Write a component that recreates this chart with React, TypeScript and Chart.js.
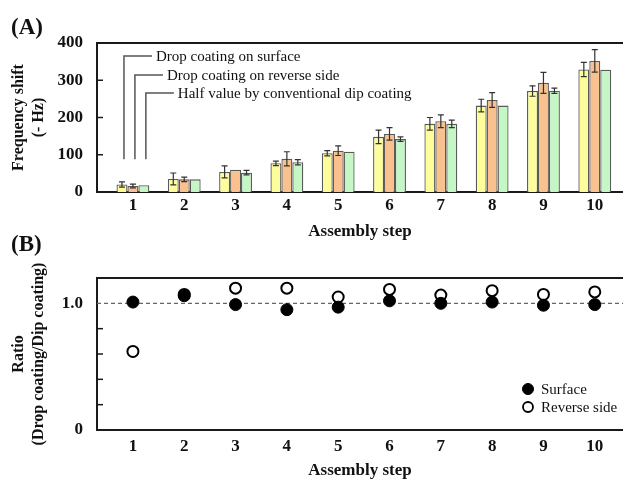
import React, { useEffect, useRef } from "react";
import { Chart, registerables } from "chart.js";

Chart.register(...registerables);

// ---------- data ----------
const steps = [1, 2, 3, 4, 5, 6, 7, 8, 9, 10];
const seriesLabels = [
  "Drop coating on surface",
  "Drop coating on reverse side",
  "Half value by conventional dip coating",
];
const surfaceShift = [20, 35, 54, 77, 104, 148, 183, 232, 271, 329];
const surfaceErr = [7, 16, 16, 6, 7, 18, 17, 17, 14, 19];
const reverseShift = [16, 34, 60, 89, 111, 156, 190, 247, 293, 352];
const reverseErr = [5, 6, 0, 19, 13, 17, 17, 20, 28, 30];
const dipHalfShift = [18, 34, 52, 80, 108, 142, 183, 232, 272, 328];
const dipHalfErr = [0, 0, 6, 7, 0, 6, 10, 0, 7, 0];

const ratioLabels = ["Surface", "Reverse side"];
const ratioSurface = [1.01, 1.06, 0.99, 0.95, 0.97, 1.02, 1.0, 1.01, 0.985, 0.99];
const ratioReverse = [0.62, 1.07, 1.12, 1.12, 1.05, 1.11, 1.065, 1.1, 1.07, 1.09];

const shiftTitle = ["Frequency shift", "(- Hz)"];
const ratioTitle = ["Ratio", "(Drop coating/Dip coating)"];
const xTitle = "Assembly step";

const FONT = "'Liberation Serif', 'Times New Roman', Times, serif";
const AXIS = "#1a1a1a";

function frameAndTicks(chart: any, tickValues: number[]) {
  const ctx = chart.ctx;
  const { left, right, top } = chart.chartArea;
  const y = chart.scales.y;
  ctx.save();
  ctx.strokeStyle = AXIS;
  ctx.lineWidth = 2;
  ctx.beginPath();
  ctx.moveTo(left - 1, top);
  ctx.lineTo(right, top);
  ctx.stroke();
  ctx.lineWidth = 1.5;
  tickValues.forEach((v) => {
    const py = y.getPixelForValue(v);
    ctx.beginPath();
    ctx.moveTo(left, py);
    ctx.lineTo(left + 6, py);
    ctx.stroke();
  });
  ctx.restore();
}

function makeX(height: number, tickPad: number, titlePad: number) {
  return {
    type: "linear",
    min: 0.3,
    max: 10.55,
    offset: false,
    grid: { display: false, offset: false },
    border: { display: true, color: AXIS, width: 2 },
    afterFit: (s: any) => {
      s.height = height;
    },
    afterBuildTicks: (s: any) => {
      s.ticks = steps.map((v) => ({ value: v }));
    },
    ticks: {
      color: "#111",
      font: { family: FONT, size: 17, weight: "bold" },
      padding: tickPad,
      maxRotation: 0,
      autoSkip: false,
      callback: (v: any) => String(v),
    },
    title: {
      display: true,
      text: xTitle,
      color: "#111",
      font: { family: FONT, size: 17, weight: "bold" },
      padding: { top: 0, bottom: titlePad },
    },
  };
}

function yTitle(text: string[]) {
  return {
    display: true,
    text,
    color: "#111",
    font: { family: FONT, size: 16, weight: "bold", lineHeight: 1.25 },
    padding: { top: 9, bottom: 0 },
  };
}

const panelAPlugin = {
  id: "panelA",
  afterDraw(chart: any) {
    const ctx = chart.ctx;
    const y = chart.scales.y;
    frameAndTicks(chart, [100, 200, 300]);

    // error bars
    const errs = [surfaceErr, reverseErr, dipHalfErr];
    const vals = [surfaceShift, reverseShift, dipHalfShift];
    ctx.save();
    ctx.strokeStyle = "#333";
    ctx.lineWidth = 1.2;
    for (let d = 0; d < 3; d++) {
      const meta = chart.getDatasetMeta(d);
      meta.data.forEach((bar: any, j: number) => {
        const e = errs[d][j];
        if (!e) return;
        const yt = y.getPixelForValue(vals[d][j] + e);
        const yb = y.getPixelForValue(vals[d][j] - e);
        ctx.beginPath();
        ctx.moveTo(bar.x, yt);
        ctx.lineTo(bar.x, yb);
        ctx.moveTo(bar.x - 3, yt);
        ctx.lineTo(bar.x + 3, yt);
        ctx.moveTo(bar.x - 3, yb);
        ctx.lineTo(bar.x + 3, yb);
        ctx.stroke();
      });
    }
    ctx.restore();

    // series annotations
    const levels = [365, 314, 266];
    ctx.save();
    ctx.strokeStyle = "#555";
    ctx.lineWidth = 1.5;
    ctx.fillStyle = "#111";
    ctx.font = `15px ${FONT}`;
    ctx.textBaseline = "middle";
    ctx.textAlign = "left";
    for (let k = 0; k < 3; k++) {
      const bar = chart.getDatasetMeta(k).data[0];
      const x = bar.x + 2;
      const yb = y.getPixelForValue(88);
      const yl = y.getPixelForValue(levels[k]);
      ctx.beginPath();
      ctx.moveTo(x, yb);
      ctx.lineTo(x, yl);
      ctx.lineTo(x + 28, yl);
      ctx.stroke();
      ctx.fillText(chart.data.datasets[k].label, x + 32, yl + 1);
    }
    ctx.restore();

    ctx.save();
    ctx.fillStyle = "#111";
    ctx.font = `bold 23px ${FONT}`;
    ctx.textBaseline = "alphabetic";
    ctx.fillText("(A)", 11, 34);
    ctx.restore();
  },
};

const panelBPlugin = {
  id: "panelB",
  beforeDatasetsDraw(chart: any) {
    const ctx = chart.ctx;
    const { left, right } = chart.chartArea;
    const py = chart.scales.y.getPixelForValue(1);
    ctx.save();
    ctx.strokeStyle = "#666";
    ctx.lineWidth = 1.3;
    ctx.setLineDash([4, 3]);
    ctx.beginPath();
    ctx.moveTo(left, py);
    ctx.lineTo(right, py);
    ctx.stroke();
    ctx.restore();
  },
  afterDraw(chart: any) {
    const ctx = chart.ctx;
    frameAndTicks(chart, [0.2, 0.4, 0.6, 0.8]);
    // legend
    ctx.save();
    ctx.font = `15px ${FONT}`;
    ctx.textBaseline = "middle";
    ctx.textAlign = "left";
    const items = chart.data.datasets;
    const lx = 528;
    const ly = [164, 182];
    items.forEach((ds: any, i: number) => {
      ctx.beginPath();
      ctx.arc(lx, ly[i], i === 0 ? 5.5 : 5, 0, Math.PI * 2);
      ctx.fillStyle = ds.pointBackgroundColor;
      ctx.fill();
      ctx.lineWidth = i === 0 ? 1 : 1.8;
      ctx.strokeStyle = "#000";
      ctx.stroke();
      ctx.fillStyle = "#111";
      ctx.fillText(ds.label, 541, ly[i] + 1);
    });
    ctx.restore();

    ctx.save();
    ctx.fillStyle = "#111";
    ctx.font = `bold 23px ${FONT}`;
    ctx.fillText("(B)", 11, 26);
    ctx.restore();
  },
};

export default function App() {
  const refA = useRef<HTMLCanvasElement | null>(null);
  const refB = useRef<HTMLCanvasElement | null>(null);

  useEffect(() => {
    const border = "#5a5a5a";
    const mk = (vals: number[]) => steps.map((x, i) => ({ x, y: vals[i] }));
    const chartA = new Chart(refA.current as HTMLCanvasElement, {
      type: "bar",
      data: {
        datasets: [
          { label: seriesLabels[0], data: mk(surfaceShift), backgroundColor: "#fdfd9c", borderColor: border, borderWidth: 1.3 },
          { label: seriesLabels[1], data: mk(reverseShift), backgroundColor: "#f9c18e", borderColor: border, borderWidth: 1.3 },
          { label: seriesLabels[2], data: mk(dipHalfShift), backgroundColor: "#c5f6c5", borderColor: border, borderWidth: 1.3 },
        ],
      } as any,
      options: {
        animation: false,
        responsive: false,
        devicePixelRatio: 1,
        layout: { autoPadding: false, padding: { top: 43, left: 0, right: 0, bottom: 0 } },
        datasets: { bar: { categoryPercentage: 0.64, barPercentage: 1.0 } },
        plugins: { legend: { display: false }, tooltip: { enabled: false } },
        scales: {
          x: makeX(53, -5, 3),
          y: {
            min: 0,
            max: 400,
            grid: { display: false },
            border: { display: true, color: AXIS, width: 2 },
            afterFit: (s: any) => { s.width = 97; },
            ticks: {
              stepSize: 100,
              color: "#111",
              padding: 6,
              font: { family: FONT, size: 17, weight: "bold" },
            },
            title: yTitle(shiftTitle),
          },
        },
      } as any,
      plugins: [panelAPlugin],
    });

    const chartB = new Chart(refB.current as HTMLCanvasElement, {
      type: "scatter",
      data: {
        datasets: [
          {
            label: ratioLabels[0],
            data: mk(ratioSurface),
            pointBackgroundColor: "#000",
            pointBorderColor: "#000",
            pointBorderWidth: 1,
            pointRadius: 6,
            showLine: false,
          },
          {
            label: ratioLabels[1],
            data: mk(ratioReverse),
            pointBackgroundColor: "#fff",
            pointBorderColor: "#000",
            pointBorderWidth: 2,
            pointRadius: 5.5,
            showLine: false,
          },
        ],
      } as any,
      options: {
        animation: false,
        responsive: false,
        devicePixelRatio: 1,
        layout: { autoPadding: false, padding: { top: 53, left: 0, right: 0, bottom: 0 } },
        plugins: { legend: { display: false }, tooltip: { enabled: false } },
        scales: {
          x: makeX(50, -2, -1),
          y: {
            min: 0,
            max: 1.2,
            grid: { display: false },
            border: { display: true, color: AXIS, width: 2 },
            afterFit: (s: any) => { s.width = 97; },
            ticks: {
              stepSize: 0.2,
              color: "#111",
              padding: 6,
              font: { family: FONT, size: 17, weight: "bold" },
              callback: (v: any) => (Math.abs(v - 1) < 1e-6 ? "1.0" : Math.abs(v) < 1e-6 ? "0" : ""),
            },
            title: yTitle(ratioTitle),
          },
        },
      } as any,
      plugins: [panelBPlugin],
    });

    return () => {
      chartA.destroy();
      chartB.destroy();
    };
  }, []);

  return (
    <div style={{ position: "absolute", left: 0, top: 0, width: 623, height: 480, background: "#fff" }}>
      <canvas ref={refA} width={623} height={245} style={{ position: "absolute", left: 0, top: 0, width: 623, height: 245 }} />
      <canvas ref={refB} width={623} height={255} style={{ position: "absolute", left: 0, top: 225, width: 623, height: 255 }} />
    </div>
  );
}
